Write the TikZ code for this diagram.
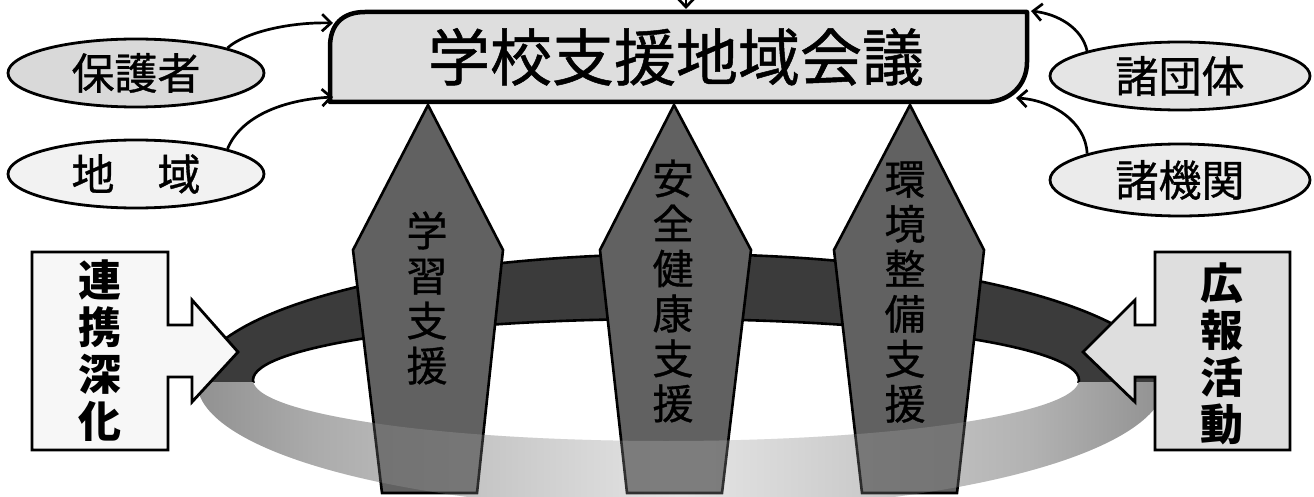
\documentclass[tikz,border=0pt]{standalone}
\usepackage{fontspec}
\newfontfamily\jp[FakeBold=0.8]{Noto Sans CJK JP}
\newfontfamily\jpb{Noto Sans CJK JP}
\usetikzlibrary{shapes.geometric,arrows.meta,calc}
\pgfdeclarehorizontalshading{ringfront}{100bp}{color(0bp)=(black!72); color(14bp)=(black!62); color(31bp)=(black!33); color(50bp)=(black!10); color(68bp)=(black!30); color(84bp)=(black!60); color(100bp)=(black!76)}
\tikzset{
  oval/.style={ellipse, draw, line width=2.8pt, minimum width=256pt, minimum height=68pt, inner sep=0pt, font=\jp\fontsize{43}{43}\selectfont},
  arr/.style={line width=2.7pt, -{Straight Barb[length=9pt,width=17pt,line width=2.7pt]}},
  mainbox/.style={line width=4.5pt, fill=black!13, line join=round},
  pencil/.style={line width=2.6pt, fill=black!62, line join=miter},
  pentext/.style={font=\jp\fontsize{41}{45}\selectfont, align=center, inner sep=0pt},
  callout/.style={line width=2.8pt, line join=miter},
  calltext/.style={font=\jpb\bfseries\fontsize{43}{47}\selectfont, align=center, inner sep=0pt}
}
\begin{document}
\begin{tikzpicture}[x=1pt,y=-1pt]
\useasboundingbox[fill=white] (0,0) rectangle (1314,497);

% ring: back half
\begin{scope}
  \clip (0,0) rectangle (1314,382);
  \draw[line width=2.6pt, fill=black!77, even odd rule]
    (681,382) ellipse [x radius=484, y radius=128]
    (666,380) ellipse [x radius=413, y radius=61];
\end{scope}
% ring: front half
\begin{scope}
  \clip (0,382) rectangle (1314,520);
  \shade[shading=ringfront, even odd rule]
    (681,382) ellipse [x radius=484, y radius=128]
    (666,380) ellipse [x radius=413, y radius=61];
\end{scope}

% pencils
\draw[pencil] (428,105) -- (503,250) -- (477,493) -- (382,493) -- (353,250) -- cycle;
\draw[pencil] (674,105) -- (751,250) -- (722,493) -- (627,493) -- (600,250) -- cycle;
\draw[pencil] (910,105) -- (984,250) -- (957,493) -- (862,493) -- (834,250) -- cycle;

% ring front overlay (passes in front of the pencils)
\begin{scope}[opacity=0.22]
  \clip (0,382) rectangle (1314,520);
  \shade[shading=ringfront, even odd rule]
    (681,382) ellipse [x radius=484, y radius=128]
    (666,380) ellipse [x radius=413, y radius=61];
\end{scope}

\node[pentext] (p1) at (427,298) {学\\習\\支\\援};
\node[pentext] (p2) at (673,291) {安\\全\\健\\康\\支\\援};
\node[pentext] (p3) at (905,292) {環\\境\\整\\備\\支\\援};

% main box
\draw[mainbox] (330,102) -- (330,47) .. controls (330,25) and (342,12) .. (365,12)
  -- (1027,12) -- (1027,62) .. controls (1027,85) and (1010,102) .. (985,102) -- cycle;
\node[font=\jp\fontsize{62}{62}\selectfont, inner sep=0pt] (main) at (676,57) {学校支援地域会議};

% ellipses
\node[oval, fill=black!15] (hogo) at (136,73) {保護者};
\node[oval, fill=black!5] (chiki) at (136,174) {地　域};
\node[oval, fill=black!10, minimum width=260pt] (dantai) at (1180,76) {諸団体};
\node[oval, fill=black!8, minimum width=260pt, minimum height=72pt] (kikan) at (1180,180) {諸機関};

% arrow ends
\coordinate (t1) at (333,23);
\coordinate (t2) at (333,97);
\coordinate (t3) at (1031,11);
\coordinate (t4) at (1016,98);
\coordinate (t0s) at (686,-20);
\coordinate (t0) at (686,9);

\draw[arr] (hogo.north east) .. controls (245,32) and (290,22) .. (t1);
\draw[arr] (chiki.north east) .. controls (240,118) and (280,100) .. (t2);
\draw[arr] (dantai.north west) .. controls (1082,28) and (1058,14) .. (t3);
\draw[arr] (kikan.north west) .. controls (1086,122) and (1052,100) .. (t4);
\draw[arr] (t0s) -- (t0);

% callouts
\draw[callout, fill=black!3] (32,252) -- (168,252) -- (168,325) -- (192,325) -- (192,300)
  -- (238,352) -- (192,402) -- (192,377) -- (168,377) -- (168,450) -- (32,450) -- cycle;
\node[calltext] (renkei) at (100,351) {連\\携\\深\\化};
\draw[callout, fill=black!13] (1290,252) -- (1155,252) -- (1155,325) -- (1135,325) -- (1135,300)
  -- (1083,352) -- (1135,402) -- (1135,377) -- (1155,377) -- (1155,450) -- (1290,450) -- cycle;
\node[calltext] (kouhou) at (1222,354) {広\\報\\活\\動};
\end{tikzpicture}
\end{document}
